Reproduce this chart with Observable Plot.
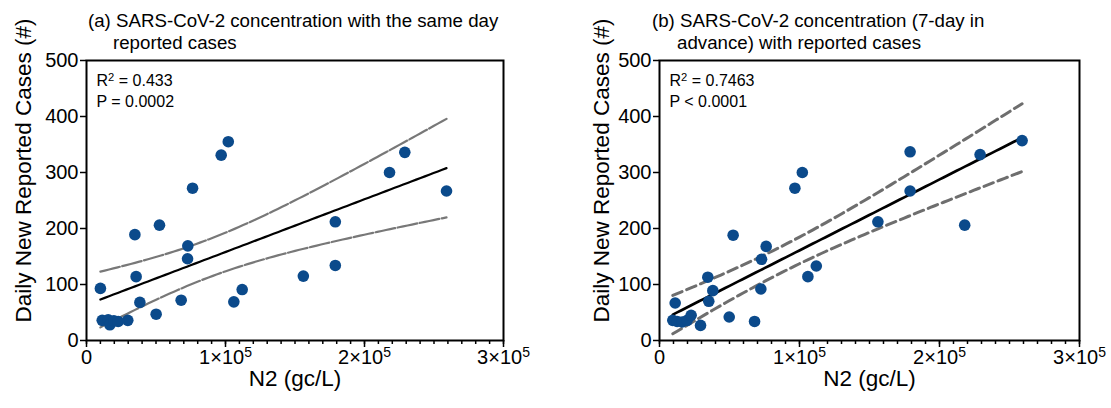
<!DOCTYPE html>
<html><head><meta charset="utf-8">
<script src="https://cdn.jsdelivr.net/npm/d3@7"></script>
<script src="https://cdn.jsdelivr.net/npm/@observablehq/plot@0.6"></script>
<style>
body{margin:0;background:#fff;font-family:"Liberation Sans",Arial,sans-serif;}
#wrap{position:relative;width:1111px;height:408px;overflow:hidden;background:#fff;}
.panel{position:absolute;top:0;height:408px;}
.title{position:absolute;font-size:18.7px;line-height:22px;white-space:nowrap;color:#000;}
</style></head><body>
<div id="wrap">
  <div class="panel" id="pa" style="left:0;width:555px"></div>
  <div class="panel" id="pb" style="left:555px;width:556px"></div>
  <div class="title" id="ta" style="left:88px;top:10px"></div>
  <div class="title" id="tb" style="left:652px;top:10px"></div>
</div>
<script>
// Panel (a): same-day N2 concentration vs reported cases
const n2A = [10000, 11300, 15600, 16800, 19700, 22800, 29700, 34800, 35700, 38400, 50100, 52500, 68100, 72700, 72900, 76300, 96900, 102000, 106000, 112000, 156000, 179000, 179000, 218000, 229000, 259000];
const casesA = [93, 36, 37, 28, 35, 34, 36, 189, 114, 68, 47, 206, 72, 146, 169, 272, 331, 355, 69, 91, 115, 212, 134, 300, 336, 267];
// Panel (b): N2 concentration 7 days in advance vs reported cases
const n2B = [11200, 9500, 12600, 16200, 19800, 22600, 29300, 34500, 35200, 38100, 49800, 52600, 67900, 72400, 72900, 76200, 96700, 102000, 106000, 112000, 156000, 179000, 179000, 218000, 229000, 259000];
const casesB = [67, 36, 34, 33, 36, 45, 27, 113, 70, 89, 42, 188, 34, 92, 145, 168, 272, 300, 114, 133, 212, 337, 267, 206, 332, 357];

const xTicks = [0, 100000, 200000, 300000];
const xTickLabels = ["0", "1×10⁵", "2×10⁵", "3×10⁵"];
const yTicks = [0, 100, 200, 300, 400, 500];
const statsA = ["R² = 0.433", "P = 0.0002"];
const statsB = ["R² = 0.7463", "P < 0.0001"];
const titleA = ["(a) SARS-CoV-2 concentration with the same day", "reported cases"];
const titleB = ["(b) SARS-CoV-2 concentration (7-day in", "advance) with reported cases"];
const xLabel = "N2 (gc/L)";
const yLabel = "Daily New Reported Cases (#)";

function fit(xs, ys) {
  const n = xs.length, mx = d3.mean(xs), my = d3.mean(ys);
  let sxx = 0, sxy = 0;
  for (let i = 0; i < n; i++) { sxx += (xs[i]-mx)**2; sxy += (xs[i]-mx)*(ys[i]-my); }
  const b = sxy/sxx, a = my - b*mx;
  let sse = 0;
  for (let i = 0; i < n; i++) sse += (ys[i] - (a + b*xs[i]))**2;
  const s = Math.sqrt(sse/(n-2)), t = 2.0639;
  const [x0, x1] = d3.extent(xs);
  return d3.range(0, 81).map(k => {
    const x = x0 + (x1-x0)*k/80, yh = a + b*x;
    const h = t*s*Math.sqrt(1/n + (x-mx)**2/sxx);
    return {x, y: yh, lo: yh-h, hi: yh+h};
  });
}

function panel(xs, ys, stats, o) {
  const data = xs.map((x, i) => ({x, y: ys[i]}));
  const curve = fit(xs, ys);
  const ci = {x: "x", stroke: o.ciColor, strokeWidth: o.ciWidth, strokeDasharray: o.dash};
  return Plot.plot({
    width: o.width, height: 408,
    marginLeft: o.ml, marginRight: o.mr, marginTop: 60, marginBottom: 68,
    x: {domain: [0, 300000]}, y: {domain: [0, 500]},
    style: {fontFamily: "Liberation Sans, Arial, sans-serif", fontSize: "18px", overflow: "visible", background: "white", color: "black"},
    marks: [
      Plot.line(curve, {...ci, y: "hi"}),
      Plot.line(curve, {...ci, y: "lo"}),
      Plot.line(curve, {x: "x", y: "y", stroke: "black", strokeWidth: o.lineWidth}),
      Plot.dot(data, {x: "x", y: "y", r: 5.8, fill: "#0b4a8b"}),
      Plot.axisX(d3.range(0, 300001, 10000), {tickSize: 4, tickFormat: () => "", strokeWidth: 1.5, label: null}),
      Plot.axisX(xTicks, {tickSize: 7, strokeWidth: 1.5, tickPadding: 2, fontSize: 20, tickFormat: d => xTickLabels[xTicks.indexOf(d)], label: null}),
      Plot.axisY(yTicks, {tickSize: 6, strokeWidth: 1.5, tickPadding: 2, fontSize: 20, label: null}),
      Plot.frame({stroke: "black", strokeWidth: 2}),
      Plot.text([stats.join("\n")], {frameAnchor: "top-left", dx: 10, dy: 11, lineAnchor: "top", textAnchor: "start", fontSize: 16, lineHeight: 1.3}),
      Plot.text([xLabel], {frameAnchor: "bottom", dy: 45, fontSize: 22.5}),
      Plot.text([yLabel], {frameAnchor: "left", dx: o.ydx, dy: -30, rotate: -90, textAnchor: "middle", fontSize: 22.5})
    ]
  });
}

function supers(svg) {
  const map = {"⁵": "5", "²": "2"};
  svg.querySelectorAll("text, tspan").forEach(el => {
    if (el.children.length) return;
    const s = el.textContent;
    const m = s.match(/[⁵²]/);
    if (!m) return;
    const i = m.index;
    const before = s.slice(0, i), after = s.slice(i + 1);
    el.textContent = "";
    const ns = "http://www.w3.org/2000/svg";
    el.appendChild(document.createTextNode(before));
    const sup = document.createElementNS(ns, "tspan");
    sup.setAttribute("dy", "-0.45em");
    sup.setAttribute("font-size", "0.7em");
    sup.textContent = map[m[0]];
    el.appendChild(sup);
    if (after) {
      const rest = document.createElementNS(ns, "tspan");
      rest.setAttribute("dy", "0.315em");
      rest.textContent = after;
      el.appendChild(rest);
    }
  });
  return svg;
}

document.getElementById("pa").append(supers(panel(n2A, casesA, statsA, {width: 555, ml: 86, mr: 52, dash: "20,2.5", ciColor: "#787878", ciWidth: 2.2, lineWidth: 2.2, ydx: -63})));
document.getElementById("pb").append(supers(panel(n2B, casesB, statsB, {width: 556, ml: 104, mr: 32, dash: "10,5", ciColor: "#6e6e6e", ciWidth: 3, lineWidth: 2.7, ydx: -58})));
document.getElementById("ta").innerHTML = titleA.map((t, i) => `<div style="padding-left:${i ? 25 : 0}px">${t}</div>`).join("");
document.getElementById("tb").innerHTML = titleB.map((t, i) => `<div style="padding-left:${i ? 25 : 0}px">${t}</div>`).join("");
</script>
</body></html>
